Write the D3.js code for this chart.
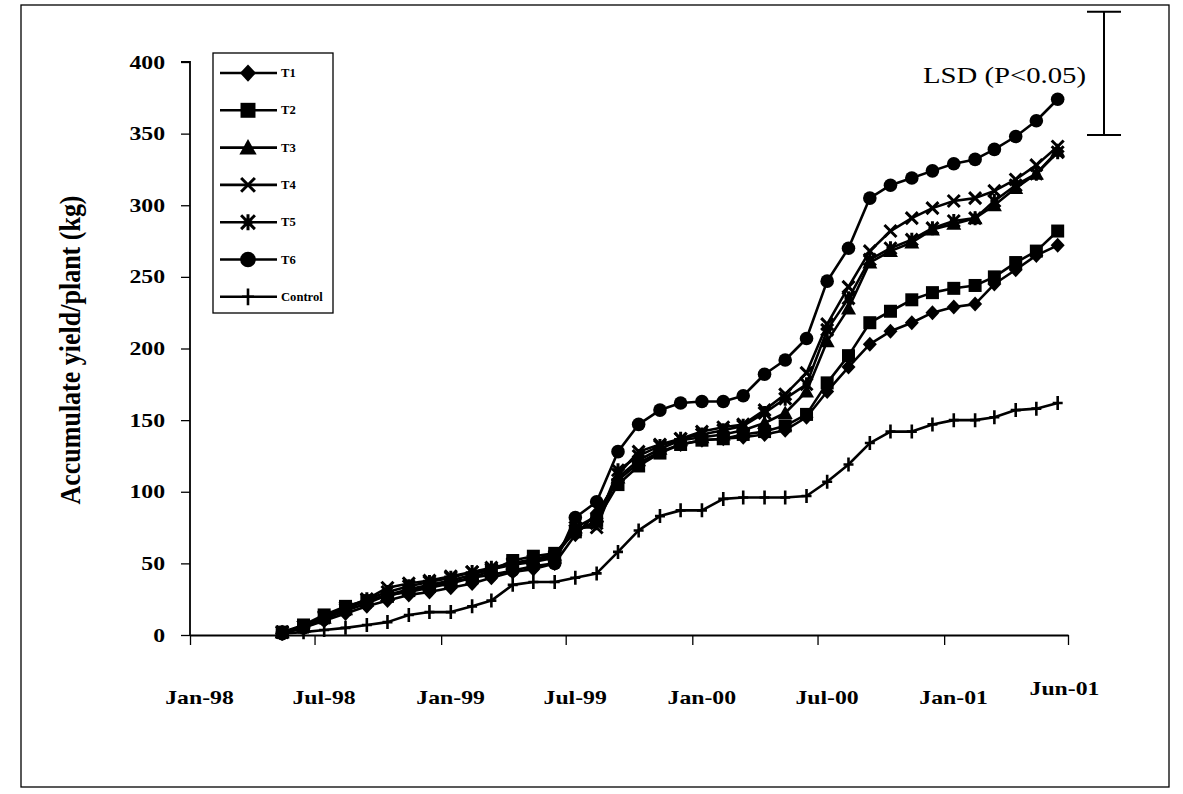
<!DOCTYPE html>
<html>
<head>
<meta charset="utf-8">
<script src="https://cdn.jsdelivr.net/npm/d3@7"></script>
<style>
  html, body { margin: 0; padding: 0; background: #fff; }
  svg { display: block; }
  text { font-family: "Liberation Serif", "Times New Roman", serif; fill: #000; }
</style>
</head>
<body>
<svg id="chart" width="1183" height="794"></svg>
<script>
// Monthly harvest records (mid-month), May 1998 - Jun 2001
const months = [
  "1998-05","1998-06","1998-07","1998-08","1998-09","1998-10","1998-11","1998-12",
  "1999-01","1999-02","1999-03","1999-04","1999-05","1999-06","1999-07","1999-08",
  "1999-09","1999-10","1999-11","1999-12","2000-01","2000-02","2000-03","2000-04",
  "2000-05","2000-06","2000-07","2000-08","2000-09","2000-10","2000-11","2000-12",
  "2001-01","2001-02","2001-03","2001-04","2001-05","2001-06"
];

// Accumulated yield per plant (kg)
const t1 = [1,5,10,15,20,24,28,30,33,36,40,44,46,50,70,85,108,120,128,133,136,137,138,140,143,152,170,187,203,212,218,225,229,231,245,255,265,272];
const t2 = [2,7,14,20,24,27,31,34,37,40,45,52,55,57,72,80,105,118,127,133,136,137,140,142,146,154,176,195,218,226,234,239,242,244,250,260,268,282];
const t3 = [2,6,12,18,24,28,32,35,38,42,46,50,53,56,75,83,110,122,130,136,138,140,143,148,155,170,205,228,260,268,274,283,287,291,300,312,322,338];
const t4 = [2,6,12,18,25,33,36,38,41,44,46,49,51,54,75,75,112,128,133,137,142,145,147,157,168,183,217,243,268,282,291,298,303,305,310,318,328,341];
const t5 = [2,6,13,19,25,30,34,37,40,44,47,50,52,55,73,78,115,125,132,137,140,143,146,155,165,175,213,235,262,270,276,284,289,291,303,314,322,337];
const t6 = [1,5,11,17,22,28,30,33,36,40,42,45,48,50,82,93,128,147,157,162,163,163,167,182,192,207,247,270,305,314,319,324,329,332,339,348,359,374];
const control = [1,2,3.5,5,7,9,14,16,16,20,24,35,37,37,40,43,58,73,83,87,87,95,96,96,96,97,107,119,134,142,142,147,150,150,152,157,158,162];

const seriesNames = ["T1","T2","T3","T4","T5","T6","Control"];
const seriesValues = [t1, t2, t3, t4, t5, t6, control];
const seriesMarkers = ["diamond","square","triangle","x","asterisk","circle","plus"];

const yTicks = [0,50,100,150,200,250,300,350,400];
const xTickDates = ["1998-01-01","1998-07-01","1999-01-01","1999-07-01","2000-01-01","2000-07-01","2001-01-01","2001-06-30"];
const lsdSpan = [349, 435];
const lsdLabel = "LSD (P<0.05)";
const yTitle = "Accumulate yield/plant (kg)";

// ---------------------------------------------------------------------------
const STRETCH = 1.25;               // typeface is set wide
const svg = d3.select("#chart");
const parseMonth = d3.timeParse("%Y-%m");
const parseDay = d3.timeParse("%Y-%m-%d");
const dates = months.map(m => { const d = parseMonth(m); d.setDate(15); return d; });

const x = d3.scaleTime()
  .domain([parseDay("1998-01-01"), parseDay("2001-06-30")])
  .range([190, 1068]);
const y = d3.scaleLinear().domain([0, 400]).range([635, 62]);

// outer frame
svg.append("rect")
  .attr("x", 21).attr("y", 5).attr("width", 1148).attr("height", 782)
  .attr("fill", "none").attr("stroke", "#000").attr("stroke-width", 1.3);

// y axis
const yAxis = svg.append("g")
  .attr("transform", "translate(190,0)")
  .call(d3.axisLeft(y).tickValues(yTicks).tickSize(9).tickPadding(0).tickFormat(d3.format("d")));
yAxis.select(".domain").attr("stroke-width", 1.8).attr("d", `M-9,${y(400)}H0V${y(0)}`);
yAxis.selectAll(".tick line").attr("stroke-width", 1.3);
yAxis.selectAll(".tick text")
  .attr("x", -25 / STRETCH)
  .attr("transform", `scale(${STRETCH},1)`)
  .style("font-size", "19px").style("font-weight", "bold")
  .attr("font-family", null);

// x axis
const fmt = d3.timeFormat("%b-%y");
const xAxis = svg.append("g")
  .attr("transform", `translate(0,${y(0)})`)
  .call(d3.axisBottom(x).tickValues(xTickDates.map(parseDay)).tickSize(10).tickSizeOuter(0).tickFormat(fmt));
xAxis.select(".domain").attr("stroke-width", 1.8);
xAxis.selectAll(".tick line").attr("stroke-width", 1.3);
xAxis.selectAll(".tick text")
  .attr("x", 9 / STRETCH)
  .attr("y", 69)
  .attr("dy", 0)
  .attr("transform", `scale(${STRETCH},1)`)
  .style("font-size", "19px").style("font-weight", "bold")
  .attr("font-family", null);
xAxis.selectAll(".tick text").filter((d, i, n) => i === n.length - 1).attr("y", 60).attr("x", -4 / STRETCH);

// axis title
svg.append("text")
  .attr("transform", `translate(80,350) scale(1.1,1) rotate(-90)`)
  .attr("text-anchor", "middle")
  .style("font-size", "26px").style("font-weight", "bold")
  .text(yTitle);

// marker drawing
function drawMarker(g, type, s) {
  switch (type) {
    case "diamond":
      g.append("path").attr("d", `M0,${-7.5*s}L${7*s},0L0,${7.5*s}L${-7*s},0Z`).attr("fill", "#000"); break;
    case "square":
      g.append("rect").attr("x", -6.5*s).attr("y", -6.5*s).attr("width", 13*s).attr("height", 13*s).attr("fill", "#000"); break;
    case "triangle":
      g.append("path").attr("d", `M0,${-7.5*s}L${7.5*s},${6*s}L${-7.5*s},${6*s}Z`).attr("fill", "#000"); break;
    case "circle":
      g.append("circle").attr("r", 6.8*s).attr("fill", "#000"); break;
    case "x":
      g.append("path").attr("d", `M${-6*s},${-6*s}L${6*s},${6*s}M${6*s},${-6*s}L${-6*s},${6*s}`)
        .attr("stroke", "#000").attr("stroke-width", 3).attr("fill", "none"); break;
    case "asterisk":
      g.append("path").attr("d", `M${-6*s},${-6*s}L${6*s},${6*s}M${6*s},${-6*s}L${-6*s},${6*s}M0,${-7*s}L0,${7*s}M${-4*s},0L${4*s},0`)
        .attr("stroke", "#000").attr("stroke-width", 3).attr("fill", "none"); break;
    case "plus":
      g.append("path").attr("d", `M0,${-7*s}L0,${7*s}M${-5*s},0L${5*s},0`)
        .attr("stroke", "#000").attr("stroke-width", 2.6).attr("fill", "none"); break;
  }
}

// series lines and markers
const line = d3.line().x((d, i) => x(dates[i])).y(d => y(d));
const plot = svg.append("g");
seriesValues.forEach((vals, k) => {
  const g = plot.append("g").attr("class", "series");
  g.append("path").datum(vals).attr("d", line)
    .attr("fill", "none").attr("stroke", "#000").attr("stroke-width", 2.6).attr("stroke-linejoin", "round");
  vals.forEach((v, i) => {
    const m = g.append("g").attr("transform", `translate(${x(dates[i])},${y(v)})`);
    drawMarker(m, seriesMarkers[k], 1);
  });
});

// legend
const legend = svg.append("g");
legend.append("rect").attr("x", 213).attr("y", 53).attr("width", 120).attr("height", 260)
  .attr("fill", "#fff").attr("stroke", "#000").attr("stroke-width", 1.3);
seriesNames.forEach((name, k) => {
  const ly = 73 + k * 37.3;
  const g = legend.append("g");
  g.append("line").attr("x1", 220).attr("x2", 277).attr("y1", ly).attr("y2", ly)
    .attr("stroke", "#000").attr("stroke-width", 2.6);
  const m = g.append("g").attr("transform", `translate(248,${ly})`);
  drawMarker(m, seriesMarkers[k], name === "Control" ? 1.2 : 1.15);
  g.append("text")
    .attr("transform", `translate(281,${ly + 4}) scale(1.05,1)`)
    .style("font-size", "12px").style("font-weight", "bold")
    .text(name);
});

// LSD bar
const lsdX = 1104;
svg.append("path")
  .attr("d", `M${lsdX},${y(lsdSpan[1])}V${y(lsdSpan[0])}M${lsdX-17},${y(lsdSpan[1])}H${lsdX+17}M${lsdX-17},${y(lsdSpan[0])}H${lsdX+17}`)
  .attr("stroke", "#000").attr("stroke-width", 2).attr("fill", "none");
svg.append("text")
  .attr("transform", `translate(923,83) scale(${STRETCH},1)`)
  .style("font-size", "23px")
  .text(lsdLabel);
</script>
</body>
</html>
